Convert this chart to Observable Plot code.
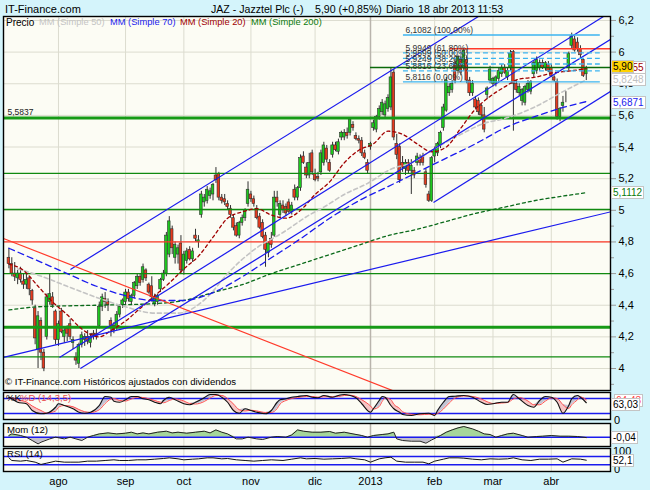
<!DOCTYPE html>
<html><head><meta charset="utf-8">
<script src="https://cdn.jsdelivr.net/npm/d3@7"></script>
<script src="https://cdn.jsdelivr.net/npm/@observablehq/plot@0.6"></script>
<style>
html,body{margin:0;padding:0;background:#d4f4fb;}
#wrap{position:relative;width:650px;height:490px;overflow:hidden;background:#d4f4fb;font-family:"Liberation Sans",Arial,sans-serif;}
#wrap svg{position:absolute;left:0;}
.t{position:absolute;white-space:nowrap;line-height:1;}
.box{position:absolute;white-space:nowrap;background:#fff;border:1px solid #c4c4c4;font-size:10px;line-height:11px;padding:0 1px;}
</style></head><body><div id="wrap"></div>
<script>
// ---------- DATA ----------
const open=[4.70,4.66,4.60,4.57,4.60,4.55,4.53,4.57,4.49,4.38,
4.12,4.30,4.10,4.20,4.42,4.45,4.36,4.18,4.36,4.20,
4.25,4.28,4.16,4.07,4.03,4.15,4.18,4.20,4.16,4.22,
4.22,4.27,4.39,4.44,4.42,4.30,4.27,4.26,4.34,4.40,
4.42,4.48,4.42,4.46,4.52,4.58,4.56,4.62,4.53,4.52,
4.41,4.42,4.50,4.56,4.60,4.72,4.88,4.70,4.72,4.79,
4.62,4.68,4.75,4.69,4.84,4.80,4.97,5.05,5.06,5.09,
5.10,5.22,5.23,5.08,5.07,5.04,5.01,4.95,4.90,4.84,
4.92,4.95,5.04,5.10,5.07,5.01,4.96,4.92,4.84,4.73,
4.82,4.84,5.08,4.97,5.03,5.02,5.05,4.99,5.13,5.08,
5.14,5.34,5.27,5.22,5.36,5.23,5.21,5.24,5.30,5.39,
5.30,5.35,5.41,5.37,5.46,5.46,5.49,5.49,5.54,5.47,
5.45,5.44,5.36,5.30,5.40,5.52,5.51,5.59,5.62,5.60,
5.64,5.65,5.87,5.42,5.40,5.30,5.26,5.30,5.25,5.25,
5.30,5.33,5.34,5.24,5.10,5.06,5.34,5.36,5.41,5.52,
5.63,5.74,5.76,5.93,5.88,5.95,5.90,5.95,5.82,5.74,
5.70,5.69,5.66,5.60,5.73,5.82,5.80,5.80,5.83,5.86,
5.90,5.84,5.90,6.00,5.80,5.74,5.69,5.68,5.76,5.75,
5.86,5.88,5.90,5.93,5.90,5.92,5.90,5.84,5.81,5.59,
5.66,5.71,5.90,6.04,6.08,6.06,6.02,5.95,5.86];
const high=[4.76,4.70,4.67,4.62,4.64,4.60,4.60,4.58,4.50,4.40,
4.36,4.32,4.12,4.47,4.60,4.48,4.37,4.30,4.38,4.26,
4.27,4.31,4.20,4.10,4.16,4.23,4.22,4.24,4.22,4.24,
4.25,4.42,4.47,4.48,4.44,4.32,4.29,4.36,4.40,4.44,
4.50,4.50,4.47,4.55,4.60,4.60,4.66,4.63,4.54,4.58,
4.47,4.47,4.57,4.62,4.86,4.96,4.90,4.80,4.78,4.84,
4.74,4.76,4.77,4.76,4.88,4.84,5.12,5.10,5.15,5.14,
5.17,5.27,5.24,5.10,5.10,5.06,5.03,4.97,4.92,4.93,
4.97,5.01,5.18,5.12,5.09,5.03,4.98,4.94,4.86,4.80,
4.86,5.12,5.12,5.06,5.06,5.04,5.07,5.05,5.16,5.15,
5.35,5.37,5.30,5.36,5.38,5.26,5.24,5.38,5.43,5.41,
5.32,5.43,5.43,5.45,5.50,5.51,5.52,5.58,5.56,5.49,
5.47,5.46,5.38,5.32,5.43,5.57,5.60,5.66,5.70,5.69,
5.73,5.90,5.89,5.48,5.42,5.34,5.32,5.32,5.32,5.27,
5.36,5.35,5.36,5.26,5.12,5.34,5.40,5.43,5.50,5.67,
5.84,5.80,5.82,5.96,5.98,5.97,6.02,5.97,5.84,5.82,
5.72,5.71,5.67,5.65,5.78,5.91,5.84,5.85,5.90,5.92,
5.92,5.90,6.01,6.01,5.82,5.80,5.77,5.79,5.82,5.82,
5.94,5.97,5.95,5.95,5.94,5.94,5.92,5.85,5.83,5.65,
5.72,5.75,6.00,6.12,6.10,6.09,6.04,5.96,5.91];
const low=[4.63,4.58,4.55,4.53,4.54,4.50,4.50,4.46,4.40,4.15,
4.00,4.05,3.98,4.18,4.40,4.38,4.15,4.14,4.22,4.16,
4.17,4.18,4.12,4.02,4.00,4.13,4.14,4.15,4.13,4.18,
4.18,4.25,4.36,4.38,4.36,4.20,4.22,4.24,4.32,4.38,
4.40,4.42,4.40,4.44,4.50,4.52,4.54,4.55,4.47,4.42,
4.39,4.40,4.48,4.55,4.58,4.70,4.72,4.66,4.66,4.60,
4.59,4.66,4.68,4.67,4.80,4.76,4.95,5.02,5.04,5.07,
5.06,5.17,5.06,5.04,5.03,5.00,4.95,4.87,4.83,4.82,
4.90,4.93,5.02,5.05,5.02,4.94,4.88,4.82,4.64,4.70,
4.76,4.83,5.02,4.95,4.98,4.96,4.98,4.97,5.06,5.06,
5.12,5.29,5.20,5.20,5.22,5.18,5.18,5.22,5.28,5.30,
5.24,5.33,5.37,5.35,5.44,5.44,5.45,5.47,5.50,5.44,
5.42,5.34,5.32,5.23,5.38,5.50,5.49,5.57,5.60,5.58,
5.62,5.63,5.44,5.32,5.17,5.24,5.22,5.23,5.10,5.20,
5.28,5.28,5.28,5.14,5.05,5.05,5.30,5.34,5.39,5.50,
5.62,5.72,5.74,5.80,5.86,5.85,5.88,5.80,5.72,5.72,
5.64,5.60,5.58,5.49,5.70,5.80,5.78,5.78,5.81,5.84,
5.86,5.82,5.88,5.50,5.74,5.72,5.66,5.66,5.74,5.73,
5.84,5.86,5.88,5.89,5.88,5.87,5.84,5.81,5.57,5.56,
5.62,5.68,5.88,6.02,6.00,6.00,5.96,5.84,5.82];
const close=[4.66,4.60,4.58,4.60,4.56,4.53,4.56,4.50,4.43,4.19,
4.33,4.10,4.00,4.45,4.47,4.40,4.18,4.28,4.23,4.24,
4.22,4.20,4.18,4.05,4.15,4.21,4.20,4.17,4.20,4.21,
4.20,4.39,4.45,4.42,4.40,4.27,4.24,4.34,4.39,4.43,
4.48,4.44,4.46,4.54,4.58,4.54,4.64,4.57,4.48,4.45,
4.45,4.46,4.56,4.60,4.84,4.93,4.76,4.78,4.76,4.62,
4.72,4.74,4.69,4.74,4.82,4.81,5.10,5.08,5.13,5.12,
5.16,5.19,5.08,5.06,5.05,5.02,4.97,4.89,4.84,4.92,
4.95,5.00,5.13,5.07,5.04,4.95,4.89,4.83,4.75,4.79,
4.78,5.08,5.05,5.04,5.00,4.98,4.99,5.03,5.08,5.14,
5.33,5.30,5.22,5.30,5.24,5.19,5.20,5.36,5.41,5.32,
5.25,5.41,5.38,5.43,5.49,5.49,5.47,5.57,5.52,5.45,
5.44,5.36,5.33,5.25,5.42,5.55,5.59,5.64,5.68,5.67,
5.71,5.84,5.46,5.35,5.19,5.27,5.30,5.25,5.28,5.22,
5.34,5.30,5.30,5.16,5.06,5.33,5.38,5.42,5.49,5.65,
5.82,5.78,5.80,5.82,5.97,5.87,6.01,5.82,5.74,5.80,
5.65,5.62,5.60,5.51,5.77,5.89,5.83,5.84,5.88,5.90,
5.87,5.88,5.99,5.80,5.76,5.78,5.76,5.78,5.80,5.81,
5.93,5.95,5.93,5.90,5.93,5.88,5.85,5.82,5.59,5.64,
5.68,5.71,5.99,6.10,6.01,6.02,5.98,5.85,5.90];

const monthLabels=["ago","sep","oct","nov","dic","2013","feb","mar","abr"];
const holidays=["2012-12-25","2012-12-26","2013-01-01","2013-03-29","2013-04-01"];

// moving averages (day index, value)
const ma20Day=[0,5,10,15,20,25,31,35,40,45,50,55,60,65,70,75,80,85,90,95,100,105,110,115,120,125,130,135,140,145,150,155,160,165,170,175,180,187,192,198];
const ma20Val=[4.66,4.62,4.52,4.42,4.34,4.25,4.20,4.24,4.30,4.38,4.46,4.54,4.63,4.71,4.83,4.95,4.99,5.01,4.97,4.95,5.00,5.10,5.18,5.30,5.38,5.42,5.50,5.48,5.42,5.37,5.40,5.52,5.64,5.72,5.78,5.83,5.84,5.87,5.88,5.8955];
const ma50Day=[3,10,20,30,40,50,58,68,75,84,94,103,108,115,123,131,138,146,155,163,170,180,190,198];
const ma50Val=[4.63,4.59,4.52,4.45,4.39,4.35,4.35,4.45,4.60,4.75,4.86,4.97,5.02,5.10,5.17,5.26,5.30,5.39,5.48,5.55,5.58,5.65,5.75,5.8248];
const ma70Day=[0,10,20,30,40,50,60,70,80,90,100,110,120,130,140,150,160,170,180,190,198];
const ma70Val=[4.76,4.68,4.60,4.52,4.46,4.43,4.43,4.48,4.58,4.70,4.82,4.95,5.06,5.15,5.24,5.33,5.42,5.52,5.59,5.65,5.687];
const ma200Day=[0,10,30,50,60,70,80,90,100,110,120,130,140,150,160,170,180,190,198];
const ma200Val=[4.37,4.39,4.40,4.41,4.43,4.48,4.53,4.60,4.66,4.72,4.78,4.84,4.88,4.93,4.98,5.02,5.06,5.09,5.1112];

// support / resistance lines
const greenThick=[5.5837,4.261];
const greenThin=[5.233,5.005,4.60,4.074];
const redFull=[4.80];
const redPartial=[{v:6.021,from:151.4}];
const darkGreenPartial=[{v:5.903,from:124}];
// trend lines (day index, price)
const blueLines=[
 {i1:21.1,p1:4.626,i2:161.0,p2:6.225},
 {i1:17.35,p1:4.070,i2:203.9,p2:6.225},
 {i1:24.5,p1:4.000,i2:206.3,p2:6.080},
 {i1:145.6,p1:5.050,i2:206.3,p2:5.751},
 {i1:-1.85,p1:4.070,i2:206.3,p2:4.990}
];
const redLines=[{i1:-1.85,p1:4.822,i2:140,p2:3.80}];

// Fibonacci
const fibVals=[6.1082,5.9949,5.9599,5.9249,5.8816,5.8116];
const fibLabels=["6,1082 (100,00%)","5,9949 (61,80%)","5,9599 (50,00%)","5,9249 (38,20%)","5,8816 (23,60%)","5,8116 (0,00%)"];

// Stochastic %K / %D
const stochDay=[0,1,3,6,8,11,13,16,17,19,22,24,26,28,31,33,35,36,38,40,42,44,46,48,50,52,53,55,57,60,62,64,67,69,71,73,75,77,79,81,83,85,88,90,92,93,95,97,99,102,104,106,108,111,113,115,117,119,121,124,125,127,128,129,131,132,134,135,138,141,144,146,147,149,151,153,156,159,162,164,166,169,171,173,175,178,180,182,184,186,188,190,192,193,195,196,198];
const stochK=[85,79,65,59,32,19,21,45,59,52,39,25,21,25,52,88,85,69,65,75,88,88,79,75,65,59,72,85,75,59,55,65,83,96,96,85,65,32,21,39,32,25,19,32,65,75,79,85,88,92,85,83,92,85,92,96,92,83,59,25,39,72,88,85,52,39,25,16,12,19,21,12,32,65,88,89,92,85,65,56,59,65,65,96,79,52,45,72,88,85,65,21,52,79,92,85,63];
const stochD=[82,82,75,66,50,32,22,30,45,52,47,36,27,24,35,60,78,80,72,70,78,85,84,79,72,65,63,72,78,70,60,58,68,82,92,92,80,58,35,30,33,30,24,24,40,58,72,80,84,88,88,85,87,87,88,92,93,88,75,50,38,48,68,82,75,57,40,27,17,15,17,16,20,38,62,82,90,88,78,67,60,62,64,78,84,70,55,55,70,82,80,55,40,55,75,86,75];
// Momentum (12)
const momDay=[0,1,4,6,8,10,11,14,16,19,21,23,25,27,29,31,34,37,40,42,44,46,48,51,54,56,58,61,64,67,69,71,73,75,78,80,82,85,87,90,92,95,97,99,101,104,107,110,112,115,118,121,123,125,128,130,132,133,135,138,141,143,145,148,150,152,154,156,159,161,163,165,167,169,171,173,176,178,181,183,186,189,192,195,198];
const momVal=[0.17,0.33,0.17,0,-0.33,-0.67,-0.5,-0.17,0,-0.17,0,-0.17,-0.33,0,0.17,0.33,0.43,0.33,0.4,0.5,0.33,0.43,0.33,0.5,0.6,0.43,0.5,0.4,0.5,0.6,0.43,0.73,0.5,0.33,-0.17,-0.17,0,-0.17,-0.23,0,0.07,0,0.23,0.73,0.6,0.5,0.5,0.57,0.4,0.5,0.33,0.17,0,0.17,0.27,0.33,0.5,-0.17,-0.33,-0.4,-0.4,-0.6,-0.27,0.17,0.5,0.73,0.93,1.07,0.83,0.6,0.33,0.27,0,0.17,0.33,0.4,0.17,0,0.07,0.1,0.17,0.1,0.1,0.07,-0.04];
// RSI (14)
const rsiDay=[0,1,4,6,9,11,13,16,19,21,24,27,30,33,36,38,41,44,47,50,53,55,58,60,63,65,68,70,73,75,78,81,84,87,90,94,97,100,102,105,108,111,114,117,119,122,124,127,129,131,133,136,139,142,144,146,149,151,154,156,159,162,165,168,171,173,176,179,182,185,188,190,193,196,198];
const rsiVal=[63.6,50.8,47.6,50.8,42.8,31.6,38,47.6,42.8,42.8,42.8,47.6,47.6,50.8,54,50.8,50.8,54,54,57.2,60.4,63.6,58.8,54,57.2,58.8,63.6,63.6,58.8,60.4,54,50.8,47.6,50.8,54,50.8,57.2,63.6,58.8,60.4,57.2,58.8,60.4,63.6,58.8,54,42.8,58.8,63.6,66.8,47.6,42.8,42.8,42.8,34.8,47.6,57.2,63.6,63.6,62,57.2,54,58.8,57.2,58.8,63.6,54,50.8,57.2,57.2,58.8,42.8,58.8,57.2,52.1];

// ---------- BUILD ----------
const dates=[];
for(let d=new Date(Date.UTC(2012,6,9)); dates.length<open.length; d.setUTCDate(d.getUTCDate()+1)){
  const wd=d.getUTCDay(), s=d.toISOString().slice(0,10);
  if(wd===0||wd===6||holidays.includes(s)) continue;
  dates.push(new Date(d));
}
const monthIdx=[];
dates.forEach((d,i)=>{ if(i>0 && d.getUTCMonth()!==dates[i-1].getUTCMonth()) monthIdx.push(i); });
const yearIdx=monthIdx.filter(i=>dates[i].getUTCMonth()===0);
const monthLab=new Map(monthIdx.map((m,k)=>[m,monthLabels[k]]));
const candles=open.map((o,i)=>({i,o,h:high[i],l:low[i],c:close[i]}));
const pts=(days,vals)=>days.map((d,k)=>({i:d,v:vals[k]}));
const fmt=d=>String(+d.toFixed(1)).replace(".",",");

const XD=[-1.85,206.3];
const FONT="Liberation Sans, Arial, sans-serif";
const BG="#fcfcf4", GRID="#dcdccf", YEAR="#b9b4ac", BLUE="#1a1aee";

function gridX(){return [
  Plot.ruleX(monthIdx.filter(i=>!yearIdx.includes(i)),{stroke:GRID}),
  Plot.ruleX(yearIdx,{stroke:YEAR,strokeWidth:1.5})
];}

const wrap=document.getElementById("wrap");
function place(svg,top){svg.style.top=top+"px";wrap.appendChild(svg);}

// main price panel
const gridY=d3.range(4,6.21,0.2);
const minorY=d3.range(3.9,6.21,0.2);
const main=Plot.plot({
  width:650,height:392,marginLeft:3,marginRight:40,marginTop:16,marginBottom:2,
  style:{background:"transparent",fontFamily:FONT,overflow:"visible"},
  x:{domain:XD,axis:null},
  y:{domain:[3.861,6.225],label:null},
  marks:[
    Plot.frame({fill:BG}),
    Plot.ruleY(gridY,{stroke:GRID}),
    ...gridX(),
    Plot.ruleX(candles,{x:"i",y1:"l",y2:"h",stroke:"#303030",strokeWidth:1}),
    Plot.rect(candles,{x1:d=>d.i-0.45,x2:d=>d.i+0.45,y1:"o",y2:"c",fill:d=>d.c>=d.o?"#1ec81e":"#e63a1e",stroke:"#303030",strokeWidth:0.6}),
    Plot.ruleY(greenThin,{stroke:"#108a10",strokeWidth:1.3}),
    Plot.ruleY(greenThick,{stroke:"#169a16",strokeWidth:3}),
    Plot.ruleY(redFull,{stroke:"#ff3a2a",strokeWidth:1.2}),
    Plot.ruleY(redPartial,{y:"v",x1:"from",x2:XD[1],stroke:"#ff3a2a",strokeWidth:1.5}),
    Plot.ruleY(darkGreenPartial,{y:"v",x1:"from",x2:XD[1],stroke:"#0a6a0a",strokeWidth:1.5}),
    Plot.line(pts(ma200Day,ma200Val),{x:"i",y:"v",stroke:"#0a6a1a",strokeWidth:1.3,strokeDasharray:"3,3",curve:"monotone-x"}),
    Plot.line(pts(ma50Day,ma50Val),{x:"i",y:"v",stroke:"#c4c4c4",strokeWidth:1.6,strokeDasharray:"4,3",curve:"monotone-x"}),
    Plot.line(pts(ma70Day,ma70Val),{x:"i",y:"v",stroke:BLUE,strokeWidth:1.3,strokeDasharray:"6,4",curve:"monotone-x"}),
    Plot.line(pts(ma20Day,ma20Val),{x:"i",y:"v",stroke:"#a00000",strokeWidth:1.3,strokeDasharray:"3,3",curve:"monotone-x"}),
    Plot.link(blueLines,{x1:"i1",y1:"p1",x2:"i2",y2:"p2",stroke:BLUE,strokeWidth:1.2,clip:true}),
    Plot.link(redLines,{x1:"i1",y1:"p1",x2:"i2",y2:"p2",stroke:"#ff3a2a",strokeWidth:1.2,clip:true}),
    Plot.ruleY(fibVals.filter((v,k)=>k===0||k===fibVals.length-1),{x1:135.3,x2:202.8,stroke:"#3cb4f0",strokeWidth:1.3}),
    Plot.ruleY(fibVals.filter((v,k)=>k>0&&k<fibVals.length-1),{x1:135.3,x2:202.8,stroke:"#3cb4f0",strokeWidth:1.3,strokeDasharray:"5,3"}),
    Plot.text(fibVals.map((v,k)=>({v,t:fibLabels[k]})),{x:135.3,y:"v",text:"t",dx:2,dy:-5,textAnchor:"start",fontSize:8.5,fill:"#333"}),
    Plot.text([5.5837],{x:XD[0],y:d=>d,text:()=>"5,5837",dx:4,dy:-6,textAnchor:"start",fontSize:8.5,fill:"#222"}),
    Plot.axisY(minorY,{anchor:"right",tickSize:3,tickFormat:()=>"",stroke:"#999",label:null}),
    Plot.axisY(gridY,{anchor:"right",tickSize:5,tickPadding:3,tickFormat:fmt,fontSize:11,color:"#000",stroke:"#999",label:null}),
    Plot.frame({stroke:"#000",strokeWidth:1.4})
  ]
});
place(main,0);

// stochastic
const st=stochDay.map((d,k)=>({i:d,k:stochK[k],d:stochD[k]}));
const stoch=Plot.plot({
  width:650,height:32,marginLeft:3,marginRight:40,marginTop:2,marginBottom:3,
  style:{background:"transparent",fontFamily:FONT,overflow:"visible"},
  x:{domain:XD,axis:null},y:{domain:[-4,104],axis:null},
  marks:[
    Plot.frame({fill:BG}),
    ...gridX(),
    Plot.areaY(st,{x:"i",y1:"k",y2:s=>Math.max(s.k,s.d),fill:"#f6c4c4",curve:"monotone-x"}),
    Plot.areaY(st,{x:"i",y1:"d",y2:s=>Math.max(s.k,s.d),fill:"#c2c4d4",curve:"monotone-x"}),
    Plot.ruleY([20,80],{stroke:BLUE,strokeWidth:1.5}),
    Plot.line(st,{x:"i",y:"d",stroke:"#ff5050",strokeWidth:1,curve:"monotone-x"}),
    Plot.line(st,{x:"i",y:"k",stroke:"#111",strokeWidth:1.1,curve:"monotone-x"}),
    Plot.frame({stroke:"#000",strokeWidth:1.4})
  ]
});
place(stoch,390);

// momentum
const mm=pts(momDay,momVal);
const mom=Plot.plot({
  width:650,height:27,marginLeft:3,marginRight:40,marginTop:2,marginBottom:2,
  style:{background:"transparent",fontFamily:FONT,overflow:"visible"},
  x:{domain:XD,axis:null},y:{domain:[-0.93,1.37],axis:null},
  marks:[
    Plot.frame({fill:BG}),
    ...gridX(),
    Plot.areaY(mm,{x:"i",y1:0,y2:m=>Math.max(0,m.v),fill:"#a6d69a"}),
    Plot.areaY(mm,{x:"i",y1:0,y2:m=>Math.min(0,m.v),fill:"#c4c0cc"}),
    Plot.ruleY([0],{stroke:BLUE,strokeWidth:1.5}),
    Plot.line(mm,{x:"i",y:"v",stroke:"#222",strokeWidth:1}),
    Plot.frame({stroke:"#000",strokeWidth:1.4})
  ]
});
place(mom,421);

// RSI
const rs=pts(rsiDay,rsiVal);
const rsi=Plot.plot({
  width:650,height:44,marginLeft:3,marginRight:40,marginTop:2,marginBottom:19,
  style:{background:"transparent",fontFamily:FONT,overflow:"visible"},
  x:{domain:XD,label:null},y:{domain:[-2.4,108.7],axis:null},
  marks:[
    Plot.frame({fill:BG}),
    ...gridX(),
    Plot.ruleY([30,70],{stroke:BLUE,strokeWidth:1.5}),
    Plot.line(rs,{x:"i",y:"v",stroke:"#111",strokeWidth:1}),
    Plot.frame({stroke:"#000",strokeWidth:1.4}),
    Plot.axisX(monthIdx,{tickSize:0,tickPadding:6,tickFormat:d=>monthLab.get(d),fontSize:11,color:"#000",label:null})
  ]
});
place(rsi,446);

// ---------- HTML text overlays ----------
function txt(s,left,top,size,color){
  const e=document.createElement("div");e.className="t";e.textContent=s;
  e.style.left=left+"px";e.style.top=top+"px";e.style.fontSize=size+"px";e.style.color=color||"#000";
  wrap.appendChild(e);return e;
}
function box(s,left,top,color,bg){
  const e=document.createElement("div");e.className="box";e.textContent=s;
  e.style.left=left+"px";e.style.top=top+"px";e.style.color=color;if(bg)e.style.background=bg;
  wrap.appendChild(e);return e;
}
txt("IT-Finance.com",5,4,11);
txt("JAZ - Jazztel Plc (-)",211,4,10.6);
txt("5,90 (+0,85%)",315,4,10.6);
txt("Diario",386,4,10.6);
txt("18 abr 2013 11:53",418,4,10.6);
txt("Precio",6,18,10);
txt("MM (Simple 50)",39,18,9.3,"#c4c4c4");
txt("MM (Simple 70)",110,18,9.3,"#1a1aee");
txt("MM (Simple 20)",180,18,9.3,"#a00000");
txt("MM (Simple 200)",251,18,9.3,"#0a7a0a");
txt("© IT-Finance.com  Históricos ajustados con dividendos",5,377,9.6);
txt("%K",6,393,9.6);
txt("%D (14,3,5)",20,393,9.6,"#e85050");
txt("Mom (12)",7,425,9.6);
txt("RSI (14)",7,449,9.6);
// right-side value boxes
box("5,8955",611,61,"#a00000");
box("5,90",611,60,"#000","#ffd200");
box("5,8248",611,73,"#c0c0c0");
box("5,6871",611,96,"#1a1aee");
box("5,1112",611,186,"#0a7a0a");
txt("0",614,415,11);
box("64,43",614,394,"#ff4040");
box("63,03",611,398,"#000");
box("-0,04",611,431,"#000");
txt("100",613,446,11);
txt("0",614,464,11);
box("52,1",611,454,"#000");
</script></body></html>
